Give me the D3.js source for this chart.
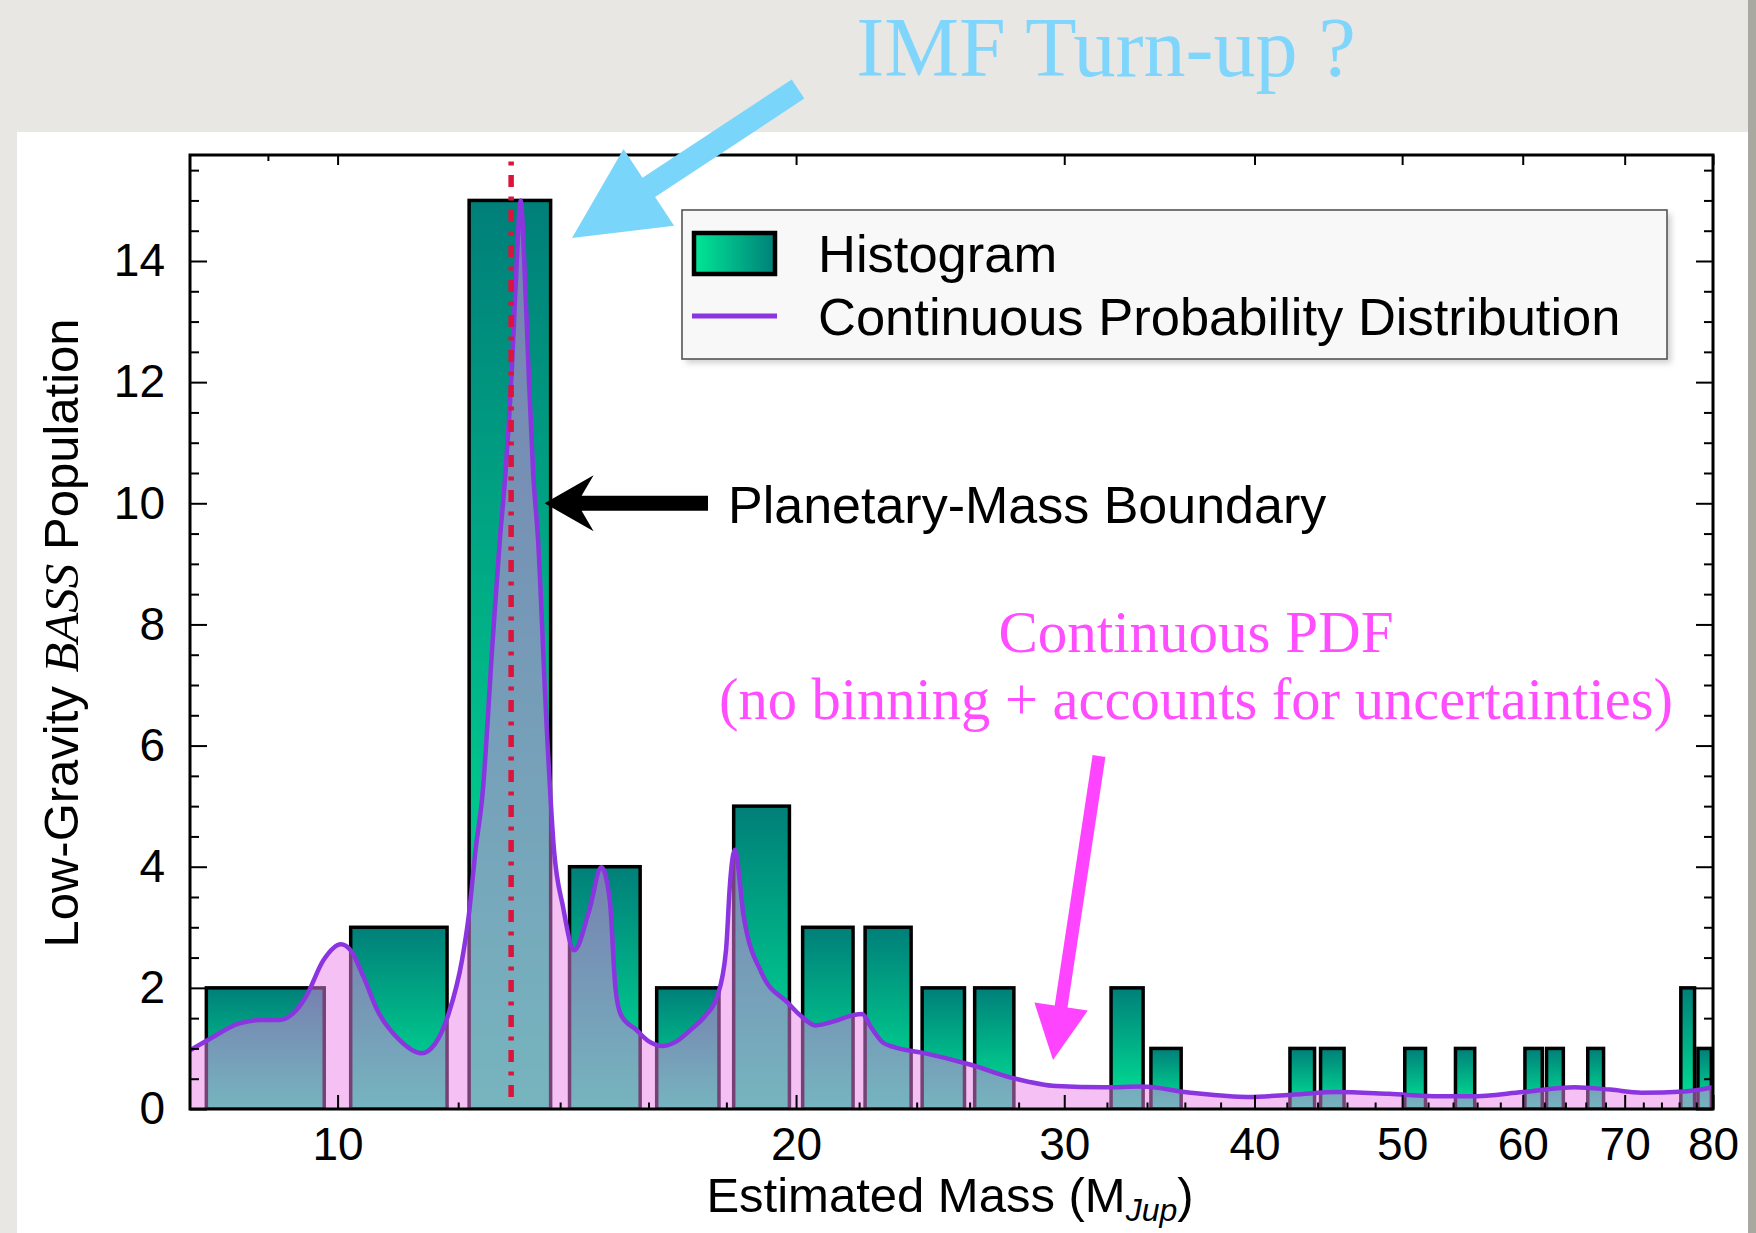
<!DOCTYPE html>
<html>
<head>
<meta charset="utf-8">
<script src="https://cdn.jsdelivr.net/npm/d3@7"></script>
<style>
  body { margin: 0; background: #e8e7e3; }
  svg { display: block; }
</style>
</head>
<body>
<script>
// ---- data ----
const binStart = [8, 10, 12, 14, 16, 18, 20, 22, 24, 26, 28, 30, 32, 34, 36, 38, 40, 42,
                  44, 46, 48, 50, 52, 54, 56, 58, 60, 62, 64, 66, 68, 70, 72, 74, 76, 78];
const binCount = [2, 3, 15, 4, 2, 5, 3, 3, 2, 2, 0, 0, 2, 1, 0, 0, 0, 1,
                  1, 0, 0, 1, 0, 1, 0, 0, 1, 1, 0, 1, 0, 0, 0, 0, 2, 1];

const pdfMass = [8.0, 8.22, 8.61, 8.91, 9.15, 9.35, 9.53, 9.79, 10.05, 10.20, 10.40, 10.62, 10.98,
                 11.35, 11.59, 11.83, 12.07, 12.19, 12.32, 12.45, 12.64, 12.78, 12.89, 13.01, 13.10,
                 13.19, 13.27, 13.35, 13.44, 13.54, 13.70, 13.87, 14.06, 14.30, 14.63, 14.90, 15.09,
                 15.22, 15.35, 15.72, 16.0, 16.37, 16.7, 17.04, 17.45, 17.75, 17.99, 18.10, 18.23,
                 18.48, 18.99, 19.76, 20.12, 20.6, 21.2, 21.8, 22.1, 22.4, 22.8, 23.2, 24.2, 26.05,
                 27.77, 29.64, 31.9, 33.7, 36.3, 39.6, 42.5, 45.3, 49.0, 53.0, 55.5, 60.0, 64.9,
                 68.5, 71.8, 76.6, 80.0];
const pdfValue = [0.97, 1.14, 1.41, 1.47, 1.47, 1.58, 1.85, 2.46, 2.72, 2.62, 2.18, 1.63, 1.14,
                  0.92, 1.08, 1.58, 2.46, 3.17, 4.28, 5.2, 7.7, 9.4, 10.5, 12.15, 13.8,
                  15.0, 13.8, 12.15, 10.5, 9.4, 6.6, 4.28, 3.34, 2.62, 3.28, 3.99, 3.45,
                  2.0, 1.55, 1.30, 1.12, 1.04, 1.12, 1.30, 1.55, 1.85, 2.62, 3.73, 4.28,
                  3.17, 2.24, 1.75, 1.55, 1.38, 1.45, 1.55, 1.57, 1.35, 1.10, 1.02, 0.93, 0.73,
                  0.51, 0.38, 0.36, 0.37, 0.27, 0.20, 0.24, 0.28, 0.25, 0.21, 0.21, 0.28, 0.36,
                  0.32, 0.27, 0.29, 0.36];

const xMajorTicks = [10, 20, 30, 40, 50, 60, 70, 80];
const xMinorTicks = [12, 14, 16, 18, 22, 24, 26, 28, 32, 34, 36, 38, 42, 44, 46, 48, 52, 54, 56, 58,
                     62, 64, 66, 68, 72, 74, 76, 78];
const xTopMinorTicks = [9];
const yMajorTicks = [0, 2, 4, 6, 8, 10, 12, 14];
const yMinorTicks = [0.5, 1, 1.5, 2.5, 3, 3.5, 4.5, 5, 5.5, 6.5, 7, 7.5, 8.5, 9, 9.5,
                     10.5, 11, 11.5, 12.5, 13, 13.5, 14.5, 15, 15.5];
const boundaryMass = 13;
const binWidth = 2;

// ---- layout ----
const W = 1756, H = 1233;
const M = { left: 190, right: 1713, top: 155, bottom: 1109 };
const SANS = '"Liberation Sans", Arial, Helvetica, sans-serif';
const SERIF = '"Liberation Serif", "Times New Roman", serif';

const svg = d3.select('body').append('svg').attr('width', W).attr('height', H);

const x = d3.scaleLog().domain([8, 80]).range([M.left, M.right]);
const y = d3.scaleLinear().domain([0, 15.75]).range([M.bottom, M.top]);

const defs = svg.append('defs');
const barGrad = defs.append('linearGradient').attr('id', 'barGrad')
    .attr('x1', 0).attr('y1', 0).attr('x2', 0).attr('y2', 1);
barGrad.append('stop').attr('offset', 0).attr('stop-color', '#007f79');
barGrad.append('stop').attr('offset', 1).attr('stop-color', '#00e896');
const swGrad = defs.append('linearGradient').attr('id', 'swatchGrad')
    .attr('x1', 0).attr('y1', 0).attr('x2', 1).attr('y2', 0);
swGrad.append('stop').attr('offset', 0).attr('stop-color', '#00e896');
swGrad.append('stop').attr('offset', 1).attr('stop-color', '#007f79');
defs.append('clipPath').attr('id', 'plotClip').append('rect')
    .attr('x', M.left).attr('y', M.top)
    .attr('width', M.right - M.left).attr('height', M.bottom - M.top);
const blur = defs.append('filter').attr('id', 'soft');
blur.append('feGaussianBlur').attr('stdDeviation', 3);

// white slide panel
svg.append('rect').attr('x', 17).attr('y', 132).attr('width', 1731).attr('height', H - 132)
    .attr('fill', '#ffffff');
svg.append('rect').attr('x', 1748).attr('y', 0).attr('width', 8).attr('height', H)
    .attr('fill', '#a9a9a2');

// ---- histogram bars ----
const bins = binStart.map((s, i) => ({ lo: s + 0.2, hi: s + binWidth - 0.2, n: binCount[i] }))
    .filter(d => d.n > 0);

const plot = svg.append('g').attr('clip-path', 'url(#plotClip)');

plot.selectAll('rect.bar').data(bins).enter().append('rect')
    .attr('class', 'bar')
    .attr('x', d => x(d.lo))
    .attr('y', d => y(d.n))
    .attr('width', d => x(d.hi) - x(d.lo))
    .attr('height', d => y(0) - y(d.n))
    .attr('fill', 'url(#barGrad)')
    .attr('stroke', '#000')
    .attr('stroke-width', 3.5);

// ---- continuous PDF ----
const pdf = pdfMass.map((m, i) => ({ m: m, v: pdfValue[i] }));

plot.append('path').datum(pdf)
    .attr('d', d3.area().x(d => x(d.m)).y0(y(0)).y1(d => y(d.v)).curve(d3.curveMonotoneX))
    .attr('fill', '#eb82e8')
    .attr('fill-opacity', 0.5);

plot.append('path').datum(pdf)
    .attr('d', d3.line().x(d => x(d.m)).y(d => y(d.v)).curve(d3.curveMonotoneX))
    .attr('fill', 'none')
    .attr('stroke', '#8a35e0')
    .attr('stroke-width', 4.5);

// planetary-mass boundary
plot.append('line')
    .attr('x1', x(boundaryMass)).attr('x2', x(boundaryMass))
    .attr('y1', y(0.2)).attr('y2', M.top)
    .attr('stroke', '#dc143c')
    .attr('stroke-width', 5.5)
    .attr('stroke-dasharray', '12,9.5,4,9.5');

// ---- axes ----
function styleAxis(g) {
    g.select('.domain').remove();
    g.selectAll('.tick line').attr('stroke', '#000').attr('stroke-width', 2);
    g.selectAll('.tick text').attr('font-family', SANS).attr('font-size', 46).attr('fill', '#000');
}

svg.append('g').attr('transform', `translate(0,${M.bottom})`)
    .call(d3.axisBottom(x).tickValues(xMajorTicks).tickFormat(d3.format('d'))
        .tickSize(-14).tickSizeOuter(0).tickPadding(18))
    .call(styleAxis);
svg.append('g').attr('transform', `translate(0,${M.bottom})`)
    .call(d3.axisBottom(x).tickValues(xMinorTicks).tickFormat('').tickSize(-6.5).tickSizeOuter(0))
    .call(styleAxis);
svg.append('g').attr('transform', `translate(0,${M.top})`)
    .call(d3.axisTop(x).tickValues(xMajorTicks).tickFormat('').tickSize(-10).tickSizeOuter(0))
    .call(styleAxis);
svg.append('g').attr('transform', `translate(0,${M.top})`)
    .call(d3.axisTop(x).tickValues(xTopMinorTicks).tickFormat('').tickSize(-6).tickSizeOuter(0))
    .call(styleAxis);

svg.append('g').attr('transform', `translate(${M.left},0)`)
    .call(d3.axisLeft(y).tickValues(yMajorTicks).tickFormat(d3.format('d'))
        .tickSize(-17).tickSizeOuter(0).tickPadding(25))
    .call(styleAxis);
svg.append('g').attr('transform', `translate(${M.left},0)`)
    .call(d3.axisLeft(y).tickValues(yMinorTicks).tickFormat('').tickSize(-9).tickSizeOuter(0))
    .call(styleAxis);
svg.append('g').attr('transform', `translate(${M.right},0)`)
    .call(d3.axisRight(y).tickValues(yMajorTicks).tickFormat('').tickSize(-17).tickSizeOuter(0))
    .call(styleAxis);
svg.append('g').attr('transform', `translate(${M.right},0)`)
    .call(d3.axisRight(y).tickValues(yMinorTicks).tickFormat('').tickSize(-9).tickSizeOuter(0))
    .call(styleAxis);

svg.append('rect')
    .attr('x', M.left).attr('y', M.top)
    .attr('width', M.right - M.left).attr('height', M.bottom - M.top)
    .attr('fill', 'none').attr('stroke', '#000').attr('stroke-width', 3);

// axis titles
const xt = svg.append('text')
    .attr('x', 950).attr('y', 1212)
    .attr('text-anchor', 'middle')
    .attr('font-family', SANS).attr('font-size', 49);
xt.append('tspan').text('Estimated Mass (M');
xt.append('tspan').attr('font-style', 'italic').attr('font-size', 32).attr('dy', 9).text('Jup');
xt.append('tspan').attr('dy', -9).text(')');

const yt = svg.append('text')
    .attr('transform', 'translate(78,633) rotate(-90)')
    .attr('text-anchor', 'middle')
    .attr('font-family', SANS).attr('font-size', 49);
yt.append('tspan').text('Low-Gravity ');
yt.append('tspan').attr('font-family', SERIF).attr('font-style', 'italic').text('BASS');
yt.append('tspan').text(' Population');

// ---- legend ----
svg.append('rect').attr('x', 686).attr('y', 214).attr('width', 985).attr('height', 149)
    .attr('fill', '#cfcfcf').attr('filter', 'url(#soft)');
svg.append('rect').attr('x', 682).attr('y', 210).attr('width', 985).attr('height', 149)
    .attr('fill', '#f8f8f8').attr('stroke', '#555').attr('stroke-width', 1.6);
svg.append('rect').attr('x', 694).attr('y', 233).attr('width', 81).attr('height', 41)
    .attr('fill', 'url(#swatchGrad)').attr('stroke', '#000').attr('stroke-width', 4.5);
svg.append('line').attr('x1', 692).attr('x2', 777).attr('y1', 316).attr('y2', 316)
    .attr('stroke', '#8a35e0').attr('stroke-width', 5);
svg.append('text').attr('x', 818).attr('y', 272)
    .attr('font-family', SANS).attr('font-size', 52.5).text('Histogram');
svg.append('text').attr('x', 818).attr('y', 335)
    .attr('font-family', SANS).attr('font-size', 52.5).text('Continuous Probability Distribution');

// ---- annotations ----
function arrowPath(x0, y0, x1, y1, shaft, headLen, headW, notch) {
    const L = Math.hypot(x1 - x0, y1 - y0);
    const ux = (x1 - x0) / L, uy = (y1 - y0) / L, nx = -uy, ny = ux;
    const P = (t, s) => [x0 + ux * t + nx * s, y0 + uy * t + ny * s];
    const pts = [P(0, -shaft / 2), P(L - headLen + notch, -shaft / 2), P(L - headLen, -headW / 2),
                 P(L, 0), P(L - headLen, headW / 2), P(L - headLen + notch, shaft / 2), P(0, shaft / 2)];
    return 'M' + pts.map(p => p[0].toFixed(1) + ',' + p[1].toFixed(1)).join('L') + 'Z';
}

// IMF turn-up
svg.append('path').attr('d', arrowPath(798, 89, 572, 238, 23, 92, 92, 0)).attr('fill', '#7ad5fb');
svg.append('text').attr('x', 1106).attr('y', 76).attr('text-anchor', 'middle')
    .attr('font-family', SERIF).attr('font-size', 84).attr('fill', '#7fd5fb').text('IMF Turn-up ?');

// planetary-mass boundary arrow
const tipX = x(binStart[2] + binWidth - 0.2) - 6;
svg.append('path').attr('d', arrowPath(708, y(10), tipX, y(10), 15, 49, 56, 12)).attr('fill', '#000');
svg.append('text').attr('x', 728).attr('y', 523)
    .attr('font-family', SANS).attr('font-size', 52).text('Planetary-Mass Boundary');

// continuous PDF note
svg.append('path').attr('d', arrowPath(1099, 756, 1053, 1060, 13, 54, 54, 0)).attr('fill', '#ff44ff');
svg.append('text').attr('x', 1196).attr('y', 652).attr('text-anchor', 'middle')
    .attr('font-family', SERIF).attr('font-size', 59).attr('fill', '#ff4dff').text('Continuous PDF');
svg.append('text').attr('x', 1196).attr('y', 719).attr('text-anchor', 'middle')
    .attr('font-family', SERIF).attr('font-size', 58.5).attr('fill', '#ff4dff')
    .text('(no binning + accounts for uncertainties)');
</script>
</body>
</html>
